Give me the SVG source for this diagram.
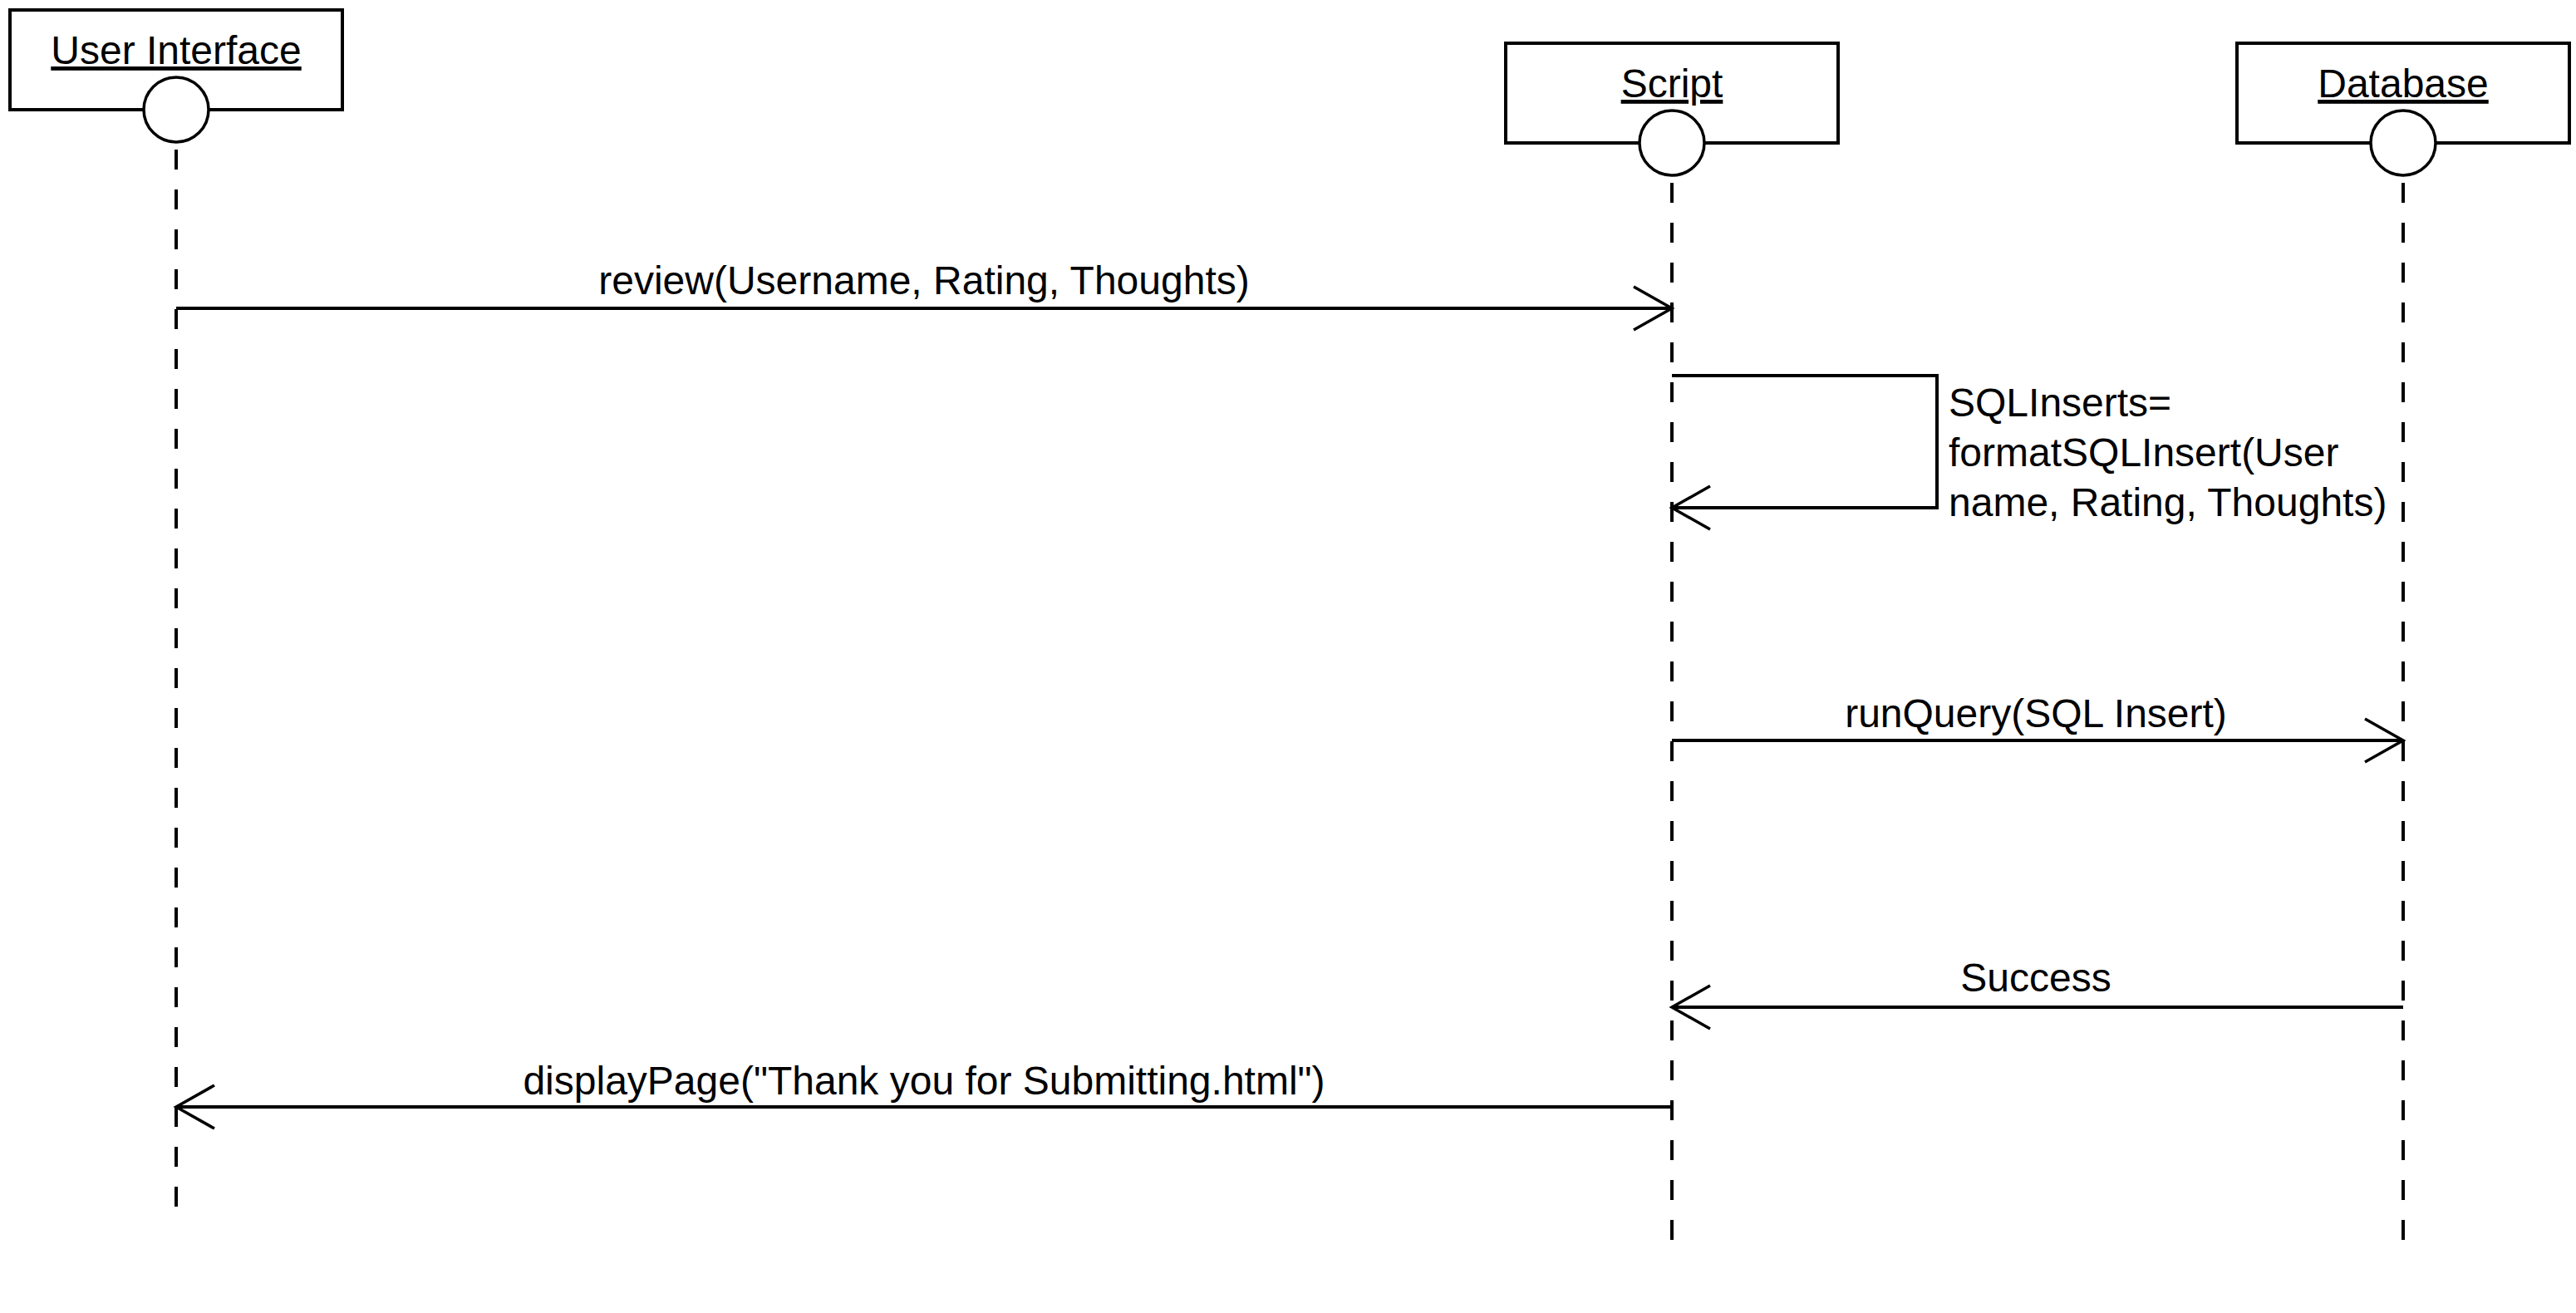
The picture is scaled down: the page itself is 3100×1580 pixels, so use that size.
<svg xmlns="http://www.w3.org/2000/svg" width="3100" height="1580" viewBox="0 0 3100 1580">
  <style>
    .box { fill: #ffffff; stroke: #000000; stroke-width: 4; }
    .head { fill: #ffffff; stroke: #000000; stroke-width: 3.5; }
    .life { stroke: #000000; stroke-width: 4; stroke-dasharray: 24 24; fill: none; }
    .msg { stroke: #000000; stroke-width: 4; fill: none; marker-end: url(#open); }
    .title { font-family: "Liberation Sans", Arial, Helvetica, sans-serif; font-size: 48px; text-anchor: middle; text-decoration: underline; fill: #000000; }
    .lbl { font-family: "Liberation Sans", Arial, Helvetica, sans-serif; font-size: 48px; text-anchor: middle; fill: #000000; }
    .lblL { font-family: "Liberation Sans", Arial, Helvetica, sans-serif; font-size: 48px; text-anchor: start; fill: #000000; }
  </style>
  <defs>
    <marker id="open" viewBox="0 0 52 58" refX="48" refY="29" markerWidth="52" markerHeight="58" markerUnits="userSpaceOnUse" orient="auto">
      <path d="M2,3 L48,29 L2,55" fill="none" stroke="#000000" stroke-width="3.5"/>
    </marker>
  </defs>
  <rect width="3100" height="1580" fill="#ffffff"/>

  <g id="user-interface">
    <line class="life" x1="212" y1="180" x2="212" y2="1452"/>
    <rect class="box" x="12" y="12" width="400" height="120"/>
    <text class="title" x="212" y="77">User Interface</text>
    <circle class="head" cx="212" cy="132" r="39"/>
  </g>

  <g id="script">
    <line class="life" x1="2012" y1="220" x2="2012" y2="1492"/>
    <rect class="box" x="1812" y="52" width="400" height="120"/>
    <text class="title" x="2012" y="117">Script</text>
    <circle class="head" cx="2012" cy="172" r="39"/>
  </g>

  <g id="database">
    <line class="life" x1="2892" y1="220" x2="2892" y2="1492"/>
    <rect class="box" x="2692" y="52" width="400" height="120"/>
    <text class="title" x="2892" y="117">Database</text>
    <circle class="head" cx="2892" cy="172" r="39"/>
  </g>

  <g id="connectors">
    <line class="msg" x1="212" y1="371" x2="2012" y2="371"/>
    <text class="lbl" x="1112" y="354">review(Username, Rating, Thoughts)</text>

    <path class="msg" d="M2012,452 L2331,452 L2331,611 L2012,611"/>
    <text class="lblL" x="2345" y="501">SQLInserts=</text>
    <text class="lblL" x="2345" y="561">formatSQLInsert(User</text>
    <text class="lblL" x="2345" y="621">name, Rating, Thoughts)</text>

    <line class="msg" x1="2012" y1="891" x2="2892" y2="891"/>
    <text class="lbl" x="2450" y="875">runQuery(SQL Insert)</text>

    <line class="msg" x1="2892" y1="1212" x2="2012" y2="1212"/>
    <text class="lbl" x="2450" y="1193">Success</text>

    <line class="msg" x1="2012" y1="1332" x2="212" y2="1332"/>
    <text class="lbl" x="1112" y="1317">displayPage("Thank you for Submitting.html")</text>
  </g>
</svg>
